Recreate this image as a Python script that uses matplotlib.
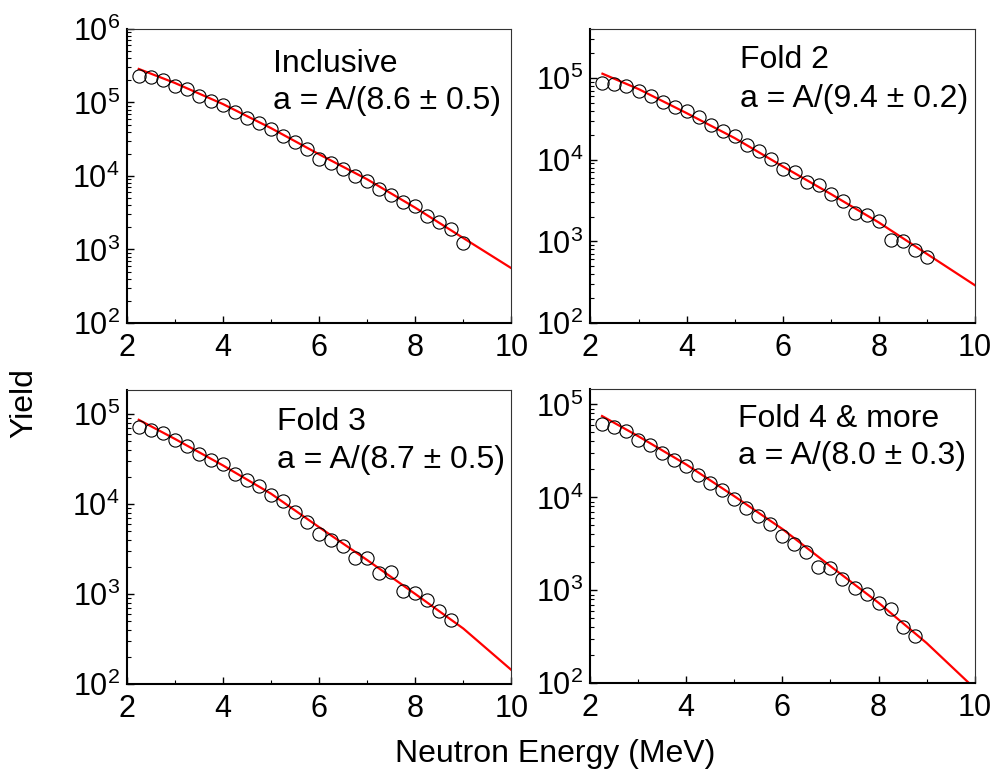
import numpy as np
import matplotlib
matplotlib.use('Agg')
import matplotlib.pyplot as plt
import matplotlib.ticker as mticker

plt.rcParams['font.family'] = ['Liberation Sans', 'DejaVu Sans']
plt.rcParams['mathtext.fontset'] = 'custom'
plt.rcParams['mathtext.rm'] = 'Liberation Sans'
plt.rcParams['mathtext.it'] = 'Liberation Sans:italic'
plt.rcParams['font.size'] = 22

# Neutron energy of the measured points (MeV)
energy_28 = [2.25, 2.5, 2.75, 3.0, 3.25, 3.5, 3.75, 4.0, 4.25, 4.5, 4.75, 5.0, 5.25, 5.5,
             5.75, 6.0, 6.25, 6.5, 6.75, 7.0, 7.25, 7.5, 7.75, 8.0, 8.25, 8.5, 8.75, 9.0]
energy_27 = energy_28[:-1]

# Yields
yield_incl = [2.31e5, 2.19e5, 2.02e5, 1.69e5, 1.52e5, 1.23e5, 1.03e5, 9.3e4, 7.5e4, 6.2e4,
              5.3e4, 4.3e4, 3.5e4, 2.85e4, 2.31e4, 1.72e4, 1.49e4, 1.23e4, 1.0e4, 8.5e3,
              6.7e3, 5.45e3, 4.47e3, 3.9e3, 2.85e3, 2.36e3, 1.87e3, 1.21e3]
yield_f2 = [8.7e4, 8.5e4, 7.9e4, 6.9e4, 6.1e4, 5.1e4, 4.4e4, 4.0e4, 3.3e4, 2.63e4,
            2.26e4, 1.97e4, 1.53e4, 1.29e4, 1.03e4, 7.8e3, 7.0e3, 5.4e3, 4.9e3, 3.8e3,
            3.15e3, 2.2e3, 2.1e3, 1.76e3, 1.05e3, 1.0e3, 7.9e2, 6.35e2]
yield_f3 = [7.1e4, 6.7e4, 6.2e4, 5.07e4, 4.35e4, 3.6e4, 3.1e4, 2.8e4, 2.16e4, 1.83e4,
            1.57e4, 1.25e4, 1.07e4, 8.2e3, 6.3e3, 4.6e3, 4.0e3, 3.45e3, 2.5e3, 2.5e3,
            1.69e3, 1.74e3, 1.08e3, 1.02e3, 8.6e2, 6.4e2, 5.1e2]
yield_f4 = [6.1e4, 5.75e4, 5.17e4, 4.13e4, 3.7e4, 3.0e4, 2.5e4, 2.15e4, 1.75e4, 1.43e4,
            1.19e4, 9.6e3, 7.7e3, 6.25e3, 5.2e3, 3.87e3, 3.15e3, 2.56e3, 1.79e3, 1.74e3,
            1.31e3, 1.06e3, 9.06e2, 7.35e2, 6.3e2, 4.0e2, 3.2e2]

# Fit curves, sampled off the figure
fit_x = [2.25, 3, 4, 5, 6, 7, 8, 9, 10]
fit_incl = [2.85e5, 1.84e5, 9.5e4, 4.47e4, 1.97e4, 9.0e3, 3.7e3, 1.43e3, 5.56e2]
fit_f2 = [1.13e5, 7.33e4, 3.72e4, 1.84e4, 8.28e3, 3.8e3, 1.70e3, 7.0e2, 2.89e2]
fit_f3 = [8.6e4, 5.28e4, 2.68e4, 1.30e4, 5.52e3, 2.38e3, 1.0e3, 4.13e2, 1.43e2]
fit_f4 = [7.5e4, 4.56e4, 2.26e4, 1.03e4, 4.57e3, 1.82e3, 7.35e2, 2.71e2, 88]

titles = ['Inclusive', 'Fold 2', 'Fold 3', 'Fold 4 & more']
params = ['a = A/(8.6 \u00b1 0.5)', 'a = A/(9.4 \u00b1 0.2)',
          'a = A/(8.7 \u00b1 0.5)', 'a = A/(8.0 \u00b1 0.3)']

fig = plt.figure(figsize=(9.94, 7.7), dpi=100)

# axes rectangles, text spots and y-limits per panel
panels = [
    ([0.1275, 0.5805, 0.387, 0.382], energy_28, yield_incl, fit_incl, 1e6, (0.38, 0.854, 0.728)),
    ([0.5940, 0.5805, 0.387, 0.382], energy_28, yield_f2, fit_f2, 4e5, (0.39, 0.866, 0.734)),
    ([0.1275, 0.1117, 0.387, 0.382], energy_27, yield_f3, fit_f3, 1.85e5, (0.39, 0.864, 0.734)),
    ([0.5936, 0.1126, 0.387, 0.382], energy_27, yield_f4, fit_f4, 1.46e5, (0.385, 0.872, 0.744)),
]

for i, (rect, ex, ey, fy, ytop, tpos) in enumerate(panels):
    ax = fig.add_axes(rect)
    ax.set_yscale('log')
    ax.plot(fit_x, fy, color='red', lw=1.6, zorder=2)
    ax.plot(ex, ey, 'o', mfc='none', mec='black', ms=9.5, mew=0.8, zorder=3)
    ax.set_xlim(2, 10)
    ax.set_ylim(1e2, ytop)
    ax.xaxis.set_major_locator(mticker.MultipleLocator(2))
    ax.xaxis.set_minor_locator(mticker.MultipleLocator(1))
    ax.yaxis.set_major_locator(mticker.LogLocator(base=10, numticks=10))
    ax.yaxis.set_minor_locator(mticker.LogLocator(base=10, subs=np.arange(2, 10), numticks=10))
    ax.yaxis.set_minor_formatter(mticker.NullFormatter())
    ax.tick_params(which='both', direction='in', top=False, right=False)
    ax.tick_params(which='major', length=5, width=1)
    ax.tick_params(which='minor', length=3, width=0.8)
    ax.tick_params(axis='x', pad=7)
    ax.tick_params(axis='y', pad=5)
    for s in ['left', 'bottom']:
        ax.spines[s].set_linewidth(1.5)
    for s in ['top', 'right']:
        ax.spines[s].set_linewidth(0.8)
        ax.spines[s].set_color('#333333')
    ax.text(tpos[0], tpos[1], titles[i], transform=ax.transAxes, va='baseline', ha='left', fontsize=23)
    ax.text(tpos[0], tpos[2], params[i], transform=ax.transAxes, va='baseline', ha='left', fontsize=23)

fig.text(0.024, 0.4766, 'Yield', rotation=90, ha='center', va='center', fontsize=23)
fig.text(0.559, 0.0104, 'Neutron Energy (MeV)', ha='center', va='baseline', fontsize=23)

fig.savefig('out.png', dpi=100)
